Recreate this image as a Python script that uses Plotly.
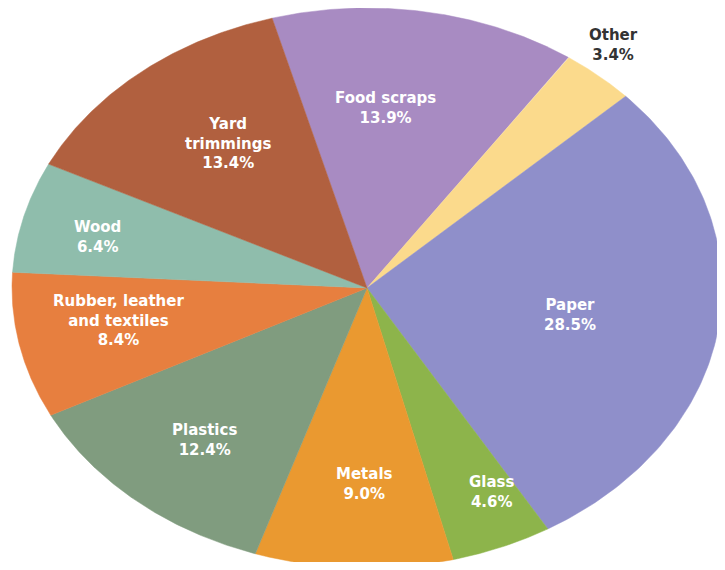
import numpy as np
import plotly.graph_objects as go

# Data (clockwise order, starting at Food scraps)
categories = ["Food scraps", "Other", "Paper", "Glass", "Metals",
              "Plastics", "Rubber, leather<br>and textiles", "Wood", "Yard<br>trimmings"]
values = [13.9, 3.4, 28.5, 4.6, 9.0, 12.4, 8.4, 6.4, 13.4]
value_labels = ["13.9%", "3.4%", "28.5%", "4.6%", "9.0%", "12.4%", "8.4%", "6.4%", "13.4%"]

# Styles
colors = ["#A88BC2", "#FBDA8C", "#8F8FCA", "#8DB44B", "#EA9930",
          "#809C7F", "#E77F3F", "#8FBDAC", "#B1603F"]
label_radius = [0.645, 1.11, 0.58, 0.81, 0.70, 0.71, 0.71, 0.78, 0.646]
label_angle_shift = [-5, -2, 1.5, -3.5, -1.5, -0.5, 2.5, -1.2, 2.6]
label_colors = ["white", "#333333", "white", "white", "white",
                "white", "white", "white", "white"]
start_angle = -15.5  # degrees, clockwise from 12 o'clock

OFF = 8               # page body margin
W, H = 725 - 2 * OFF, 570 - 2 * OFF
cx, cy = 367 - OFF, 288 - OFF     # pixel centre inside the figure
ax_px, by_px = 355, 280           # semi-axes in pixels

fig = go.Figure()

total = sum(values)
angle = start_angle
mids = []
for cat, v, col in zip(categories, values, colors):
    span = 360.0 * v / total
    t = np.radians(np.linspace(angle, angle + span, 120))
    xs = np.concatenate([[0], np.sin(t), [0]])
    ys = np.concatenate([[0], np.cos(t), [0]])
    fig.add_trace(go.Scatter(x=xs, y=ys, fill="toself", mode="lines",
                             line=dict(color=col, width=0.5), fillcolor=col,
                             hoverinfo="skip", showlegend=False, cliponaxis=False))
    mids.append(angle + span / 2)
    angle += span

for cat, vl, m, r, sh, lc in zip(categories, value_labels, mids, label_radius,
                                 label_angle_shift, label_colors):
    a = np.radians(m + sh)
    fig.add_annotation(x=r * np.sin(a), y=r * np.cos(a),
                       text=f"<b>{cat}<br>{vl}</b>", showarrow=False,
                       font=dict(family="DejaVu Sans", size=15, color=lc),
                       align="center")

fig.update_xaxes(range=[(0 - cx) / ax_px, (W - cx) / ax_px], visible=False, fixedrange=True)
fig.update_yaxes(range=[-(H - cy) / by_px, cy / by_px], visible=False, fixedrange=True)
fig.update_layout(width=W, height=H, margin=dict(l=0, r=0, t=0, b=0),
                  paper_bgcolor="white", plot_bgcolor="white")

fig.write_html("out.html")
